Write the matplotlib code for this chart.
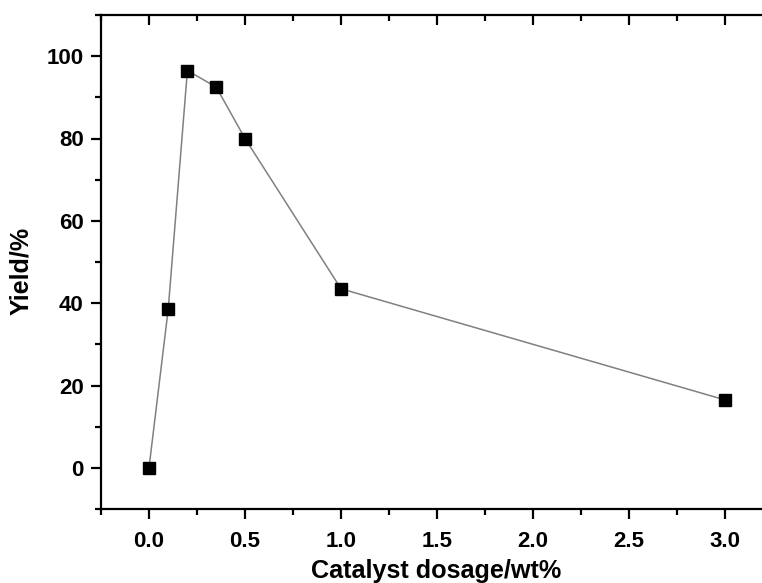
import matplotlib
matplotlib.use("Agg")
import matplotlib.pyplot as plt
from matplotlib.ticker import MultipleLocator

dosage = [0.0, 0.1, 0.2, 0.35, 0.5, 1.0, 3.0]
yield_pct = [0.0, 38.5, 96.5, 92.5, 80.0, 43.5, 16.5]
xticks = [0.0, 0.5, 1.0, 1.5, 2.0, 2.5, 3.0]
yticks = [0, 20, 40, 60, 80, 100]

plt.rcParams['font.family'] = ['Liberation Sans', 'DejaVu Sans']
plt.rcParams['font.weight'] = 'bold'

fig = plt.figure(figsize=(7.62, 5.83), dpi=100)
# the right spine sits just beyond the right edge of the image, as in the reference
ax = fig.add_axes([101/762, 1 - 509/583, (773 - 101)/762, (509 - 15)/583])

ax.plot(dosage, yield_pct, color='#808080', linewidth=1.1, marker='s',
        markersize=8.5, markerfacecolor='black', markeredgecolor='black', zorder=3)

ax.set_xlim(-0.25, 3.25)
ax.set_ylim(-10, 110)
ax.set_xticks(xticks)
ax.set_xticklabels([f"{v:.1f}" for v in xticks])
ax.set_yticks(yticks)
ax.set_yticklabels([str(v) for v in yticks])
ax.xaxis.set_minor_locator(MultipleLocator(0.25))
ax.yaxis.set_minor_locator(MultipleLocator(10))

for s in ax.spines.values():
    s.set_linewidth(1.6)

ax.tick_params(axis='both', which='major', direction='out', length=7.5, width=1.6,
               labelsize=16)
ax.tick_params(axis='x', which='major', pad=8)
ax.tick_params(axis='y', which='major', pad=5)
ax.tick_params(axis='both', which='minor', direction='out', length=4, width=1.6)
ax.tick_params(top=True, right=True, which='both')
# inward ticks on top/right
for t in ax.xaxis.get_major_ticks() + ax.xaxis.get_minor_ticks():
    t.tick2line.set_marker(3)
for t in ax.yaxis.get_major_ticks() + ax.yaxis.get_minor_ticks():
    t.tick2line.set_marker(0)

ax.set_xlabel("Catalyst dosage/wt%", fontsize=18.2, fontweight='bold')
ax.set_ylabel("Yield/%", fontsize=18, fontweight='bold')
ax.xaxis.set_label_coords((436 - 101) / 672, -0.102)
ax.yaxis.set_label_coords((33 - 101) / 672, 0.482)

fig.savefig("out.png", dpi=100)
